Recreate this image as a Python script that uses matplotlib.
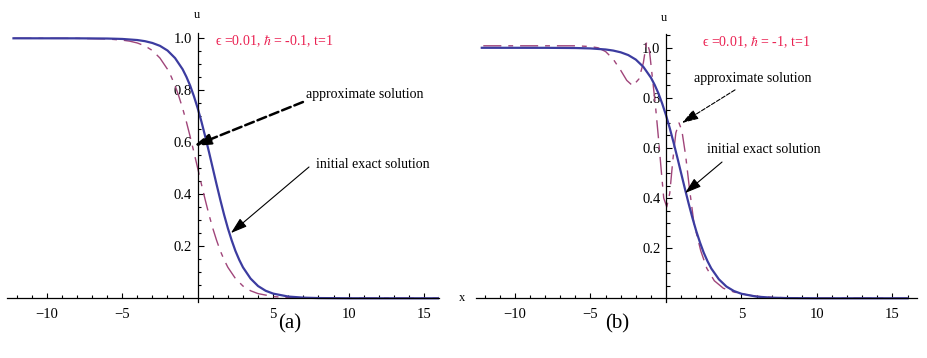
import matplotlib
matplotlib.use("Agg")
import numpy as np
import matplotlib.pyplot as plt

plt.rcParams['font.family'] = ['Liberation Serif', 'DejaVu Serif']
plt.rcParams['mathtext.fontset'] = 'stix'

# ---- data ----
# initial exact solution (same curve in both panels)
x_exact = [-12.2, -8, -6, -5, -4, -3.5, -3, -2.5, -2, -1.5, -1, -0.75, -0.5, -0.25, 0,
           0.25, 0.5, 0.75, 1, 1.25, 1.5, 1.75, 2, 2.25, 2.5, 2.75, 3, 3.5, 4, 4.5,
           5, 6, 7, 8, 10, 16]
u_exact = [1.0, 0.9999, 0.9991, 0.9975, 0.9933, 0.989, 0.982, 0.971, 0.953, 0.924, 0.881,
           0.852, 0.818, 0.777, 0.731, 0.679, 0.622, 0.562, 0.5, 0.438, 0.378, 0.321,
           0.269, 0.223, 0.182, 0.148, 0.119, 0.076, 0.047, 0.029, 0.018, 0.0067,
           0.0025, 0.0009, 0.0001, 0.0]

# approximate solution, panel (a)
x_approx_a = [-12.2, -8, -6, -5, -4.5, -4, -3.5, -3, -2.5, -2, -1.75, -1.5, -1.25, -1,
              -0.75, -0.5, -0.25, 0, 0.25, 0.5, 0.75, 1, 1.25, 1.5, 1.75, 2, 2.5, 3,
              3.5, 4, 5, 6, 7, 9, 16]
u_approx_a = [1.0, 0.9997, 0.9975, 0.993, 0.989, 0.982, 0.971, 0.953, 0.924, 0.881,
              0.852, 0.818, 0.777, 0.731, 0.679, 0.622, 0.562, 0.5, 0.438, 0.378, 0.321,
              0.269, 0.223, 0.182, 0.148, 0.119, 0.076, 0.047, 0.029, 0.018, 0.0067,
              0.0025, 0.0009, 0.0001, 0.0]

# approximate solution, panel (b)
x_approx_b = [-12.1, -8, -6, -5, -4.5, -4, -3.5, -3, -2.6, -2.2, -1.8, -1.5, -1.28, -1.1,
              -0.9, -0.7, -0.5, -0.3, -0.15, 0.05, 0.25, 0.45, 0.65, 0.86, 1.05, 1.3,
              1.55, 1.85, 2.3, 2.7, 3.2, 3.8, 4.5, 5.5, 6.5, 8, 10, 16]
u_approx_b = [1.008, 1.008, 1.008, 1.005, 1.0, 0.985, 0.955, 0.91, 0.87, 0.848, 0.875,
              0.94, 1.025, 0.99, 0.88, 0.77, 0.64, 0.5, 0.40, 0.365, 0.42, 0.55, 0.66,
              0.70, 0.67, 0.57, 0.44, 0.30, 0.19, 0.12, 0.07, 0.04, 0.025, 0.012, 0.005,
              0.002, 0.0, 0.0]

x_ticks = [-10, -5, 5, 10, 15]
x_tick_labels = ['\u221210', '\u22125', '5', '10', '15']
u_ticks = [0.2, 0.4, 0.6, 0.8, 1.0]
u_tick_labels = ['0.2', '0.4', '0.6', '0.8', '1.0']

title_a = '\u03f5 =0.01, $\\hbar$ = -0.1, t=1'
title_b = '\u03f5 =0.01, $\\hbar$ = -1, t=1'

BLUE = '#3c3ca0'
PURPLE = '#a0457a'
RED = '#ea1f50'
DASHDOT = (0, (13, 5, 3.5, 5))

W, H = 928, 358
fig = plt.figure(figsize=(W / 100, H / 100), dpi=100)


def px_axes(xlim, ylim, x0, sx, y0, sy):
    # place an axes so that data maps onto the reference pixel grid
    left = x0 + sx * xlim[0]
    right = x0 + sx * xlim[1]
    top = y0 - sy * ylim[1]
    bottom = y0 - sy * ylim[0]
    ax = fig.add_axes([left / W, (H - bottom) / H, (right - left) / W, (bottom - top) / H])
    for s in ['top', 'right']:
        ax.spines[s].set_visible(False)
    for s in ['left', 'bottom']:
        ax.spines[s].set_position('zero')
        ax.spines[s].set_linewidth(0.9)
    ax.set_xlim(*xlim)
    ax.set_ylim(*ylim)
    ax.patch.set_alpha(0)
    ax.set_xticks(x_ticks, x_tick_labels)
    ax.set_yticks(u_ticks, u_tick_labels)
    ax.tick_params(axis='x', length=0, labelsize=10.5, pad=7)
    ax.tick_params(axis='y', length=0, labelsize=10.5, pad=4)

    # Mathematica-style inward ticks drawn as short segments (major + minor)
    x_minor = [v for v in np.arange(np.ceil(xlim[0]), xlim[1] + 0.01, 1.0) if v != 0]
    u_minor = [v for v in np.arange(0.05, ylim[1], 0.05)]
    for v in x_minor:
        h = (5.5 if v in x_ticks else 3.3) / sy
        ax.plot([v, v], [0, h], color='black', lw=0.8, solid_capstyle='butt')
    for v in u_minor:
        w = (6.0 if any(abs(v - t) < 1e-6 for t in u_ticks) else 3.8) / sx
        ax.plot([0, w], [v, v], color='black', lw=0.8, solid_capstyle='butt')
    return ax


def arrow(ax, tail, tip, dashed, lw):
    ax.annotate('', xy=tip, xytext=tail,
                arrowprops=dict(arrowstyle='-|>,head_length=1.0,head_width=0.32',
                                color='black', lw=lw, shrinkA=0, shrinkB=0,
                                linestyle='--' if dashed else '-'))


# ---- panel (a) ----
ax1 = px_axes((-12.6, 16.0), (-0.015, 1.02), 197.7, 15.1, 298.3, 260)
ax1.plot(x_approx_a, u_approx_a, color=PURPLE, lw=1.0, linestyle=DASHDOT)
ax1.plot(x_exact, u_exact, color=BLUE, lw=1.6)
ax1.text(1.15, 0.987, title_a, color=RED, fontsize=10, va='center')
ax1.text(-0.07, 1.09, 'u', fontsize=9, ha='center', va='center', clip_on=False)
ax1.text(17.5, 0.0, 'x', fontsize=9, ha='center', va='center', clip_on=False)
ax1.text(7.18, 0.782, 'approximate solution', fontsize=10, va='center')
arrow(ax1, (6.97, 0.755), (-0.25, 0.586), True, 1.8)
ax1.text(7.83, 0.513, 'initial exact solution', fontsize=10, va='center')
arrow(ax1, (7.37, 0.505), (2.2, 0.251), False, 0.8)

# ---- panel (b) ----
ax2 = px_axes((-12.6, 16.6), (-0.015, 1.055), 666.0, 15.1, 298.3, 250.5)
ax2.plot(x_approx_b, u_approx_b, color=PURPLE, lw=1.0, linestyle=DASHDOT)
ax2.plot(x_exact, u_exact, color=BLUE, lw=1.6)
ax2.text(2.36, 1.024, title_b, color=RED, fontsize=10, va='center')
ax2.text(-0.13, 1.12, 'u', fontsize=9, ha='center', va='center', clip_on=False)
ax2.text(1.85, 0.879, 'approximate solution', fontsize=10, va='center')
arrow(ax2, (4.57, 0.832), (1.06, 0.70), True, 0.8)
ax2.text(2.72, 0.596, 'initial exact solution', fontsize=10, va='center')
arrow(ax2, (3.71, 0.544), (1.26, 0.42), False, 0.8)

fig.text(290 / W, 1 - 324 / H, '(a)', fontsize=15, ha='center', va='center')
fig.text(617 / W, 1 - 324 / H, '(b)', fontsize=15, ha='center', va='center')

fig.savefig('out.png', dpi=100)
